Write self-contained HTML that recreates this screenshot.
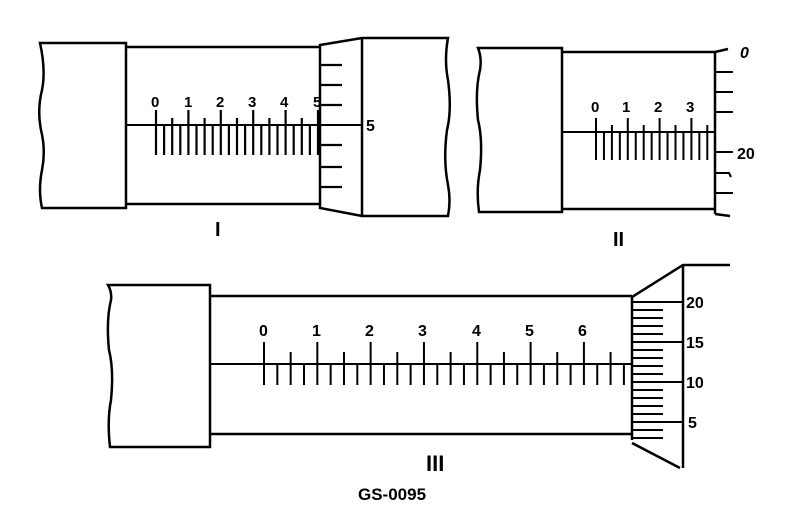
<!DOCTYPE html>
<html><head><meta charset="utf-8"><style>
html,body{margin:0;padding:0;background:#fff;}
svg{display:block;}
text{font-family:"Liberation Sans",sans-serif;fill:#000;}
</style></head><body>
<svg id="s" width="800" height="524" viewBox="0 0 800 524" xmlns="http://www.w3.org/2000/svg" stroke="#000" fill="none" stroke-width="2.5">
<!-- Figure I -->
<path d="M40,43 L126,43 L126,208 L42,208 Q38,190 42,170 Q46,150 41,130 Q37,110 42,90 Q46,70 40,43 Z"/>
<line x1="126" y1="47" x2="320" y2="47"/>
<line x1="126" y1="204" x2="320" y2="204"/>
<path d="M320,45 L362,38 L448,38 Q444,60 448,80 Q452,110 447,130 Q443,160 448,185 Q451,200 448,216 L362,216 L320,208 Z"/>
<line x1="362" y1="38" x2="362" y2="216"/>
<line x1="126" y1="125" x2="362" y2="125" stroke-width="2"/>
<g id="t1" stroke-width="2.2"></g>
<g font-size="15" stroke="none" font-weight="bold">
<text x="151" y="107">0</text><text x="184" y="107">1</text><text x="216" y="107">2</text><text x="248" y="107">3</text><text x="280" y="107">4</text><text x="313" y="107">5</text>
<text x="366" y="131" font-size="16">5</text>
</g>
<text x="215" y="236" font-size="20" font-family="Liberation Serif" font-weight="bold" stroke="none">I</text>
<!-- Figure II -->
<path d="M478,48 L562,48 L562,212 L479,212 Q476,190 480,170 Q483,140 478,120 Q475,90 480,70 Q482,58 478,48 Z"/>
<line x1="562" y1="52" x2="715" y2="52"/>
<line x1="562" y1="209" x2="715" y2="209"/>
<line x1="715" y1="52" x2="715" y2="214"/>
<line x1="715" y1="52" x2="728" y2="49"/>
<line x1="715" y1="214" x2="730" y2="216"/>
<line x1="562" y1="132" x2="715" y2="132" stroke-width="2"/>
<g stroke-width="2">
<line x1="715" y1="72" x2="733" y2="72"/><line x1="715" y1="92" x2="733" y2="92"/><line x1="715" y1="112" x2="733" y2="112"/>
<line x1="715" y1="152" x2="733" y2="152"/><path d="M715,173 L729,173 L731,177"/><line x1="715" y1="193" x2="733" y2="193"/>
</g>
<g id="t2" stroke-width="2"></g>
<g font-size="15" stroke="none" font-weight="bold">
<text x="591" y="112">0</text><text x="622" y="112">1</text><text x="654" y="112">2</text><text x="686" y="112">3</text>
<text x="740" y="58" font-size="16" font-style="italic">0</text>
<text x="737" y="159" font-size="16">20</text>
</g>
<text x="613" y="246" font-size="20" font-family="Liberation Serif" font-weight="bold" stroke="none">II</text>
<!-- Figure III -->
<path d="M108,285 L210,285 L210,447 L110,447 Q107,420 111,400 Q114,370 109,350 Q106,320 111,300 Q112,292 108,285 Z"/>
<line x1="210" y1="296" x2="632" y2="296"/>
<line x1="210" y1="434" x2="632" y2="434"/>
<line x1="632" y1="296" x2="632" y2="440"/>
<path d="M632,297 L683,265 L730,265"/>
<line x1="683" y1="265" x2="683" y2="468"/>
<line x1="632" y1="443" x2="680" y2="468"/>
<line x1="210" y1="364" x2="632" y2="364" stroke-width="2"/>
<g id="t3" stroke-width="2"></g>
<g id="t4" stroke-width="2"></g>
<g font-size="16" stroke="none" font-weight="bold">
<text x="259" y="336">0</text><text x="312" y="336">1</text><text x="365" y="336">2</text><text x="418" y="336">3</text><text x="472" y="336">4</text><text x="525" y="336">5</text><text x="578" y="336">6</text>
<text x="686" y="308">20</text><text x="686" y="348">15</text><text x="686" y="388">10</text><text x="688" y="428">5</text>
</g>
<text x="426" y="471" font-size="22" font-family="Liberation Serif" font-weight="bold" stroke="none">III</text>
<text x="358" y="500" font-size="17" font-weight="bold" stroke="none">GS-0095</text>
</svg>
<script>
(function(){
function L(g,x1,y1,x2,y2){var e=document.createElementNS("http://www.w3.org/2000/svg","line");e.setAttribute("x1",x1);e.setAttribute("y1",y1);e.setAttribute("x2",x2);e.setAttribute("y2",y2);document.getElementById(g).appendChild(e);}
var i,x,t0;
for(i=0;i<=20;i++){x=156+i*8.1;t0=i%4==0?110:(i%2==0?118:125);L("t1",x,t0,x,155);}
[65,85,105,145,167,187].forEach(function(y){L("t1",320,y,342,y);});
for(i=0;i<=14;i++){x=596+i*7.95;t0=i%4==0?118:(i%2==0?125:132);L("t2",x,t0,x,160);}
for(i=0;i<=27;i++){x=264+i*13.33;t0=i%4==0?342:(i%2==0?352:364);L("t3",x,t0,x,385);}
for(var k=0;k<=17;k++){var y=302+k*8;var maj=(k%5==0);L("t4",632,y,maj?683:663,y);}
})();
</script>
</body></html>
